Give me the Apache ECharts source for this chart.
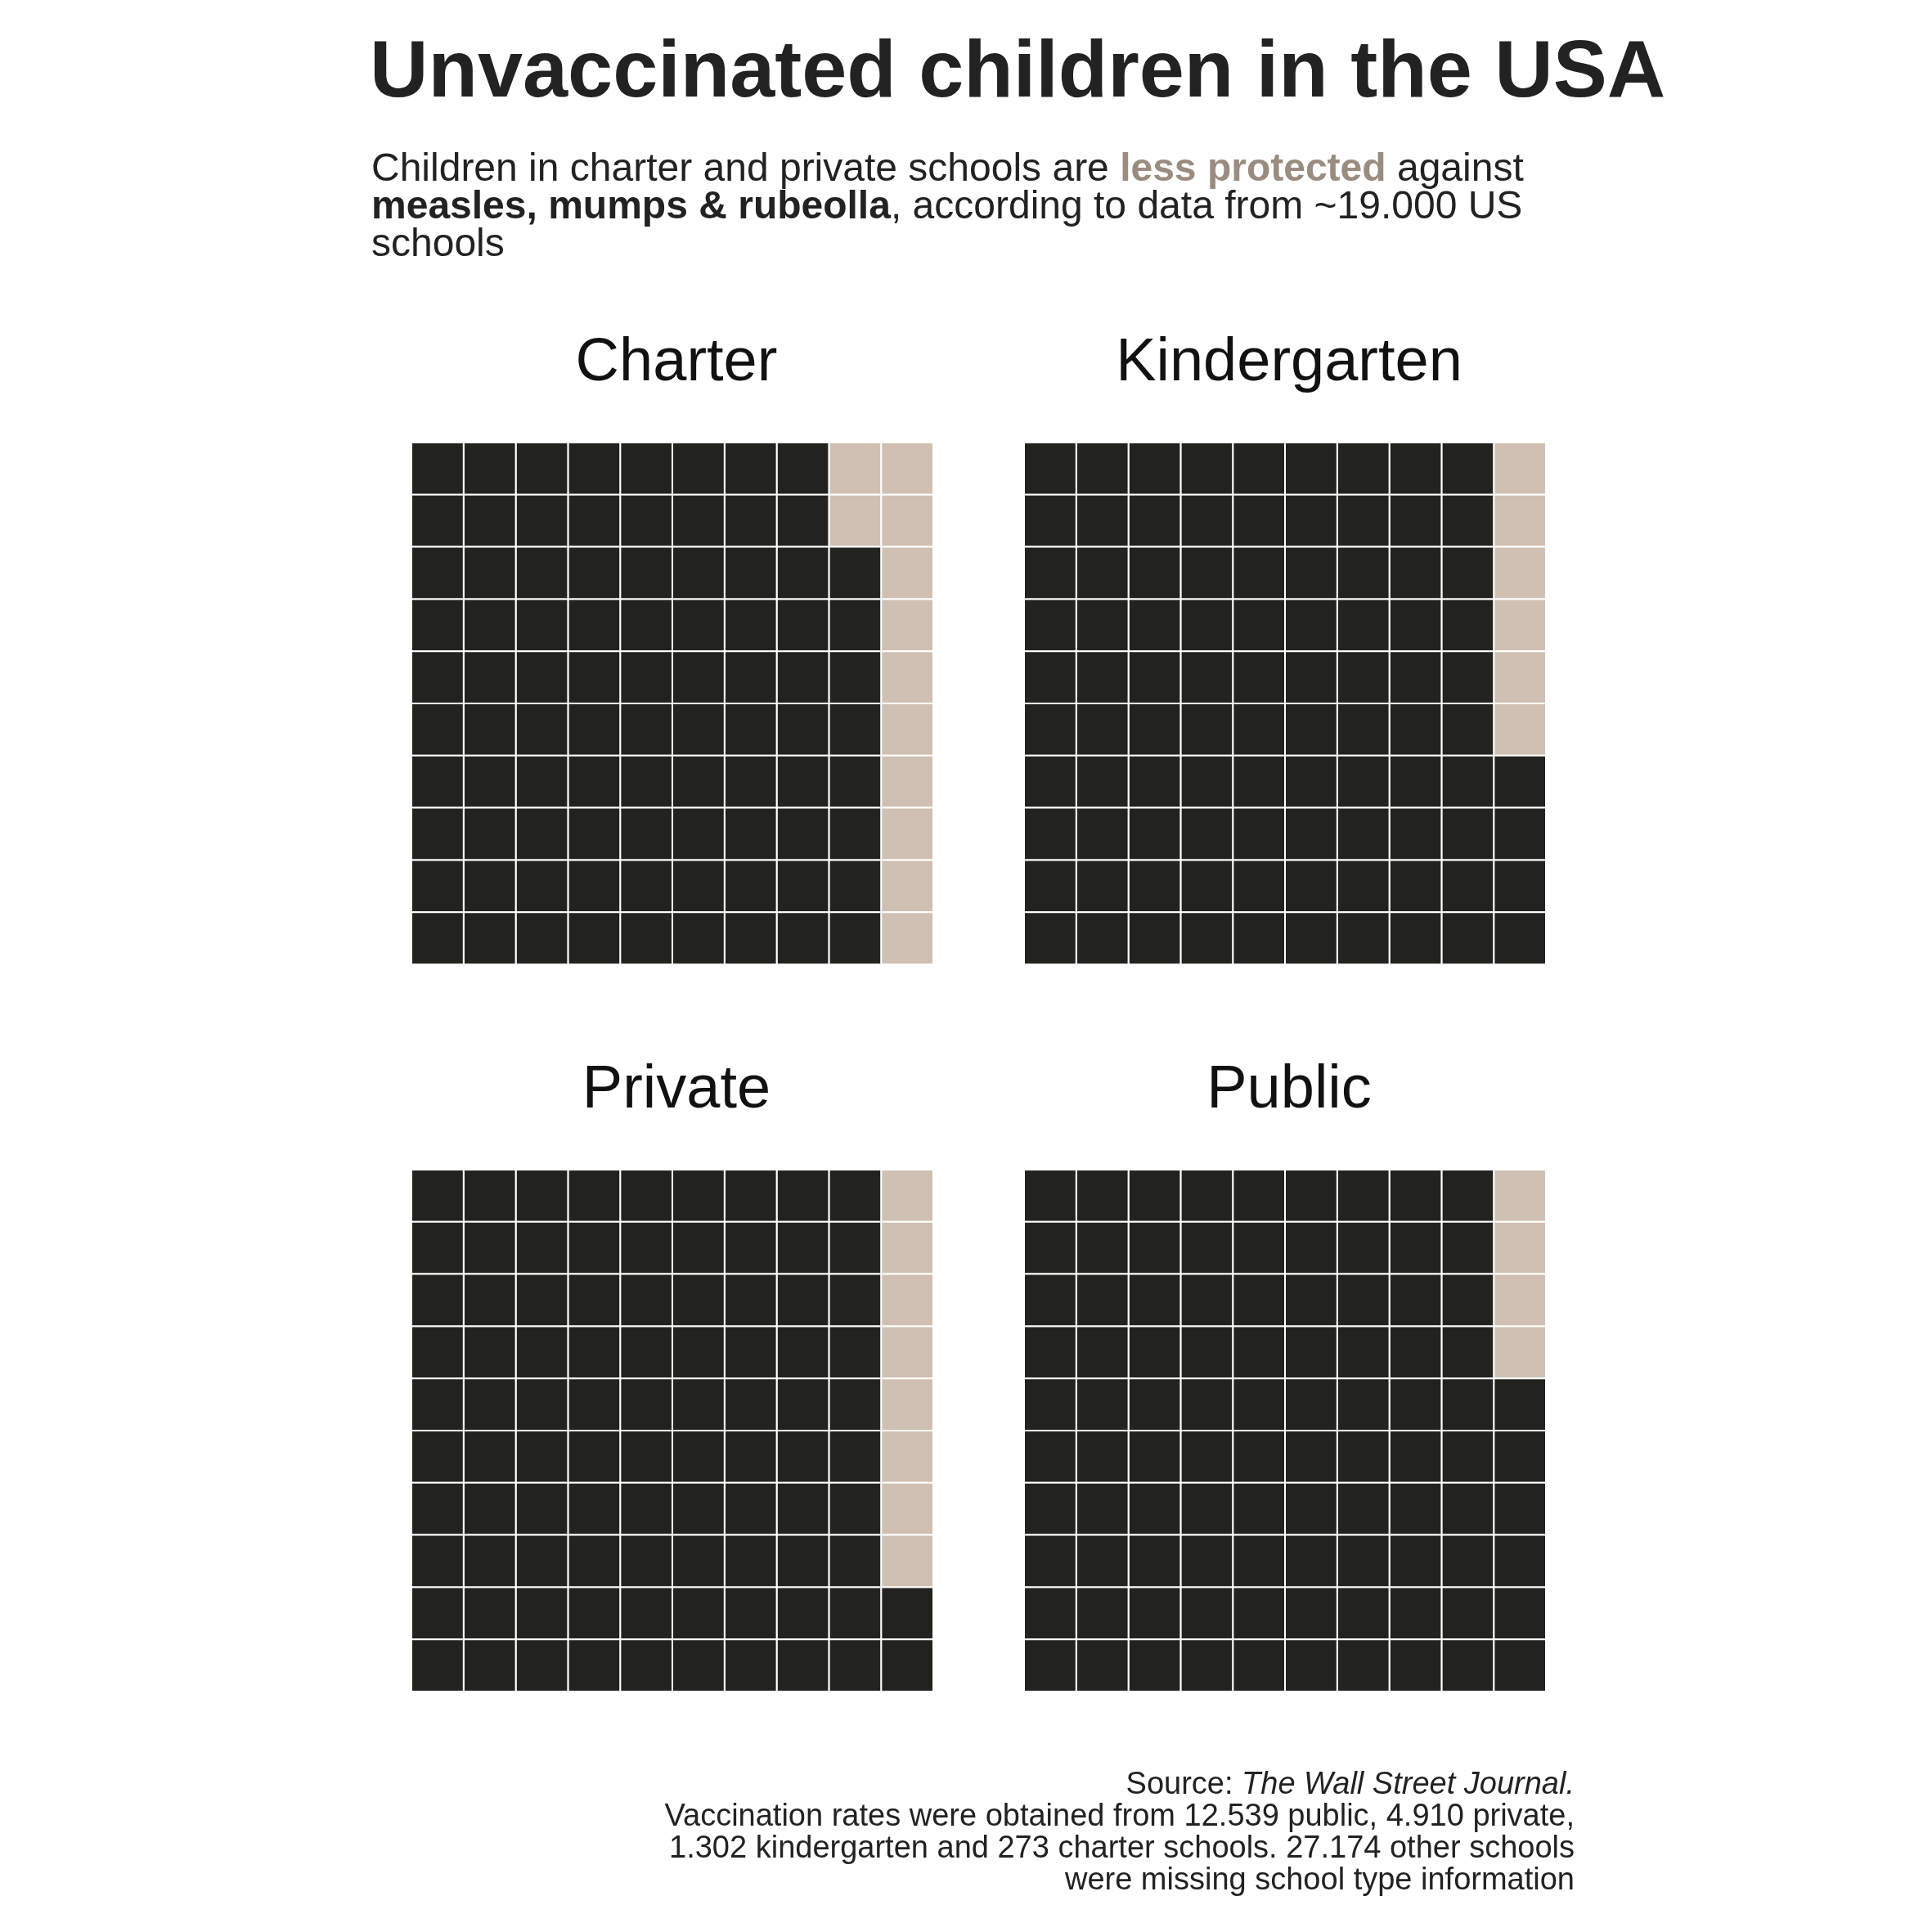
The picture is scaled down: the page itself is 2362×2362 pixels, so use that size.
<!DOCTYPE html>
<html>
<head>
<meta charset="utf-8">
<script src="https://cdn.jsdelivr.net/npm/echarts@6/dist/echarts.min.js"></script>
<style>html,body{margin:0;padding:0;background:#fff}#c{width:2362px;height:2362px}</style>
</head>
<body>
<div id="c"></div>
<script>
// school types and how many of 100 children are unvaccinated
var categories = ['Charter', 'Kindergarten', 'Private', 'Public'];
var unvaccinated = [12, 6, 8, 4];
var cols = ['0', '1', '2', '3', '4', '5', '6', '7', '8', '9'];
var rows = ['0', '1', '2', '3', '4', '5', '6', '7', '8', '9'];

var DARK = '#22231f', TAN = '#cfc0b3';
var FONT = 'Liberation Sans';

// grid boxes (left, top) for each panel
var boxes = [[503, 541], [1252, 541], [503, 1430], [1252, 1430]];
var SIZE = 638;

var grids = [], xAxes = [], yAxes = [], series = [], titles = [];

titles.push({
    text: 'Unvaccinated children in the USA',
    left: 447, top: 36,
    textStyle: { fontFamily: FONT, fontSize: 99, fontWeight: 'bold', color: '#222' }
});
titles.push({
    text: 'Children in charter and private schools are {a|less protected} against\n{b|measles, mumps & rubeolla}, according to data from ~19.000 US\nschools',
    left: 449, top: 180,
    textStyle: {
        fontFamily: FONT, fontSize: 48, fontWeight: 'normal', color: '#222', lineHeight: 46,
        rich: {
            a: { fontFamily: FONT, fontSize: 48, fontWeight: 'bold', color: '#9b8c80', lineHeight: 46 },
            b: { fontFamily: FONT, fontSize: 48, fontWeight: 'bold', color: '#222', lineHeight: 46 }
        }
    }
});
titles.push({
    text: 'Source: {i|The Wall Street Journal.}\nVaccination rates were obtained from 12.539 public, 4.910 private,\n1.302 kindergarten and 273 charter schools. 27.174 other schools\nwere missing school type information',
    left: 1920, top: 2158,
    textAlign: 'right',
    textStyle: {
        fontFamily: FONT, fontSize: 38, fontWeight: 'normal', color: '#222', lineHeight: 39, align: 'right',
        rich: { i: { fontFamily: FONT, fontSize: 38, fontStyle: 'italic', fontWeight: 'normal', color: '#222', lineHeight: 39 } }
    }
});

categories.forEach(function (name, i) {
    var b = boxes[i];
    grids.push({ left: b[0], top: b[1], width: SIZE, height: SIZE });
    xAxes.push({ type: 'category', gridIndex: i, data: cols, show: false });
    yAxes.push({ type: 'category', gridIndex: i, data: rows, inverse: true, show: false });
    titles.push({
        text: name, left: b[0] + SIZE / 2, top: b[1] - 138, textAlign: 'center',
        textStyle: { fontFamily: FONT, fontSize: 74, fontWeight: 'normal', color: '#111' }
    });
    var data = [];
    for (var k = 0; k < 100; k++) {
        var c = 9 - Math.floor(k / 10);
        var r = k % 10;
        data.push([c, r, k < unvaccinated[i] ? 1 : 0]);
    }
    series.push({
        type: 'custom',
        xAxisIndex: i, yAxisIndex: i,
        data: data,
        silent: true,
        renderItem: function (params, api) {
            var p = api.coord([api.value(0), api.value(1)]);
            var s = api.size([1, 1]);
            return {
                type: 'rect',
                shape: { x: p[0] - s[0] / 2, y: p[1] - s[1] / 2, width: s[0], height: s[1] },
                style: { fill: api.value(2) ? TAN : DARK, stroke: '#fff', lineWidth: 2 }
            };
        }
    });
});

var chart = echarts.init(document.getElementById('c'));
chart.setOption({
    backgroundColor: '#fff',
    animation: false,
    title: titles,
    grid: grids,
    xAxis: xAxes,
    yAxis: yAxes,
    series: series
});
</script>
</body>
</html>
